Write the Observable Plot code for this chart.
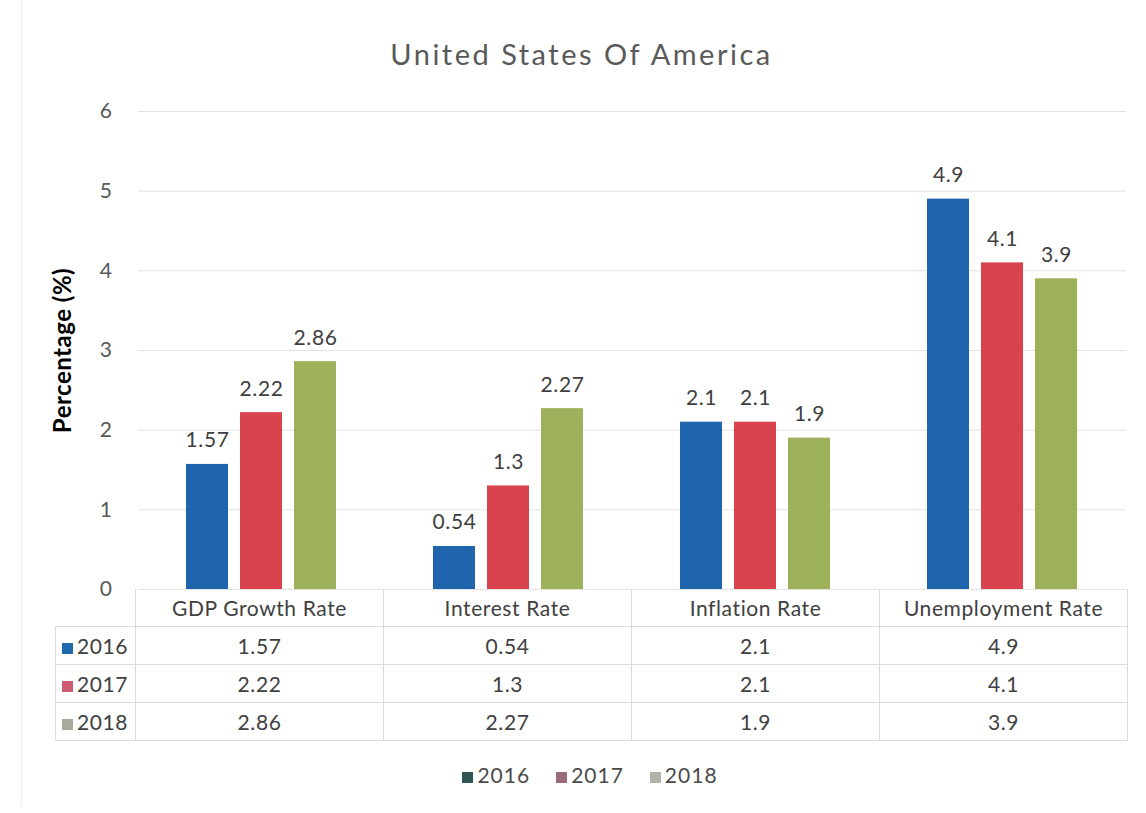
<!DOCTYPE html>
<html>
<head>
<meta charset="utf-8">
<script src="https://cdn.jsdelivr.net/npm/d3@7"></script>
<script src="https://cdn.jsdelivr.net/npm/@observablehq/plot@0.6"></script>
<style>
  html, body { margin:0; padding:0; background:#fff; }
  body { font-family: Lato, "Open Sans", sans-serif; }
  #wrap { position:relative; width:1146px; height:813px; overflow:hidden; }
  #edge { position:absolute; left:21px; top:0; width:1px; height:805px; background:#ececec; }
  #title { position:absolute; top:36px; left:0; width:1163px; text-align:center; font-size:29px; color:#595959; letter-spacing:2.5px; }
  #chart { position:absolute; top:80px; left:0; }
  #chart g[aria-label="y-axis label"] text { font-weight:bold; font-size:24px; fill:#000; letter-spacing:0.5px; }
  #chart g[aria-label="y-axis tick label"] text { fill:#595959; }
  #chart text { letter-spacing:0.6px; }
  #tbl { position:absolute; top:589px; left:55px; border-collapse:collapse; font-size:21px; color:#404040; letter-spacing:0.6px; }
  #tbl td { height:37px; padding:0; text-align:center; border:1px solid #dcdcdc; }
  #tbl td.key { width:80px; text-align:left; padding-left:6px; box-sizing:border-box; }
  #tbl td.val { width:247px; }
  #tbl tr.head td { height:37px; border-top:none; }
  #tbl tr.head td.blank { border:none; }
  .sw { display:inline-block; width:11px; height:11px; margin-right:4px; vertical-align:0px; }
  #legend { position:absolute; top:762px; left:0; width:1180px; text-align:center; font-size:21px; color:#4a4a4a; letter-spacing:1px; }
  #legend span.item { margin:0 13px; }
</style>
</head>
<body>
<div id="wrap">
  <div id="edge"></div>
  <div id="title"></div>
  <div id="chart"></div>
  <table id="tbl"></table>
  <div id="legend"></div>
</div>
<script>
const title = "United States Of America";
const categories = ["GDP Growth Rate", "Interest Rate", "Inflation Rate", "Unemployment Rate"];
const years = ["2016", "2017", "2018"];
const v2016 = [1.57, 0.54, 2.1, 4.9];
const v2017 = [2.22, 1.3, 2.1, 4.1];
const v2018 = [2.86, 2.27, 1.9, 3.9];
const yTicks = [0, 1, 2, 3, 4, 5, 6];
const barColors = ["#1f65ad", "#d8434e", "#9cb15a"];
const keyColors = ["#1f6aad", "#cc5d72", "#a9aa9c"];
const legendColors = ["#2f5651", "#9b6a7a", "#b3b2a8"];
const yLabel = "Percentage (%)";

const series = [v2016, v2017, v2018];
const data = [];
categories.forEach((c, i) => years.forEach((y, j) => data.push({category: c, year: y, value: series[j][i]})));

document.getElementById("title").textContent = title;

const chart = Plot.plot({
  width: 1146,
  height: 540,
  marginTop: 31,
  marginBottom: 31,
  marginLeft: 136,
  marginRight: 19,
  style: {fontFamily: "Lato, 'Open Sans', sans-serif", fontSize: "21px", color: "#404040", background: "transparent"},
  fx: {domain: categories, padding: 0, axis: null},
  x: {domain: years, axis: null, paddingInner: 0.218, paddingOuter: 0.864},
  y: {domain: [0, 6]},
  color: {domain: years, range: barColors},
  marks: [
    Plot.gridY(yTicks, {stroke: "#e2e2e2", strokeOpacity: 1}),
    Plot.axisY(yTicks, {tickSize: 0, tickPadding: 26, fontSize: 21, tickFormat: d => String(d), label: yLabel, labelAnchor: "center", labelArrow: "none", labelOffset: 85}),
    Plot.barY(data, {fx: "category", x: "year", y: "value", fill: "year"}),
    Plot.text(data, {fx: "category", x: "year", y: "value", text: d => String(d.value), lineAnchor: "bottom", dy: -17, fontSize: 21, fill: "#404040"})
  ]
});
document.getElementById("chart").appendChild(chart);

// data table
const tbl = document.getElementById("tbl");
let html = '<tr class="head"><td class="key blank"></td>' + categories.map(c => `<td class="val">${c}</td>`).join("") + "</tr>";
years.forEach((y, j) => {
  html += `<tr><td class="key"><span class="sw" style="background:${keyColors[j]}"></span>${y}</td>` +
    series[j].map(v => `<td class="val">${v}</td>`).join("") + "</tr>";
});
tbl.innerHTML = html;

// legend
document.getElementById("legend").innerHTML = years.map((y, j) =>
  `<span class="item"><span class="sw" style="background:${legendColors[j]}"></span>${y}</span>`).join("");
</script>
</body>
</html>
